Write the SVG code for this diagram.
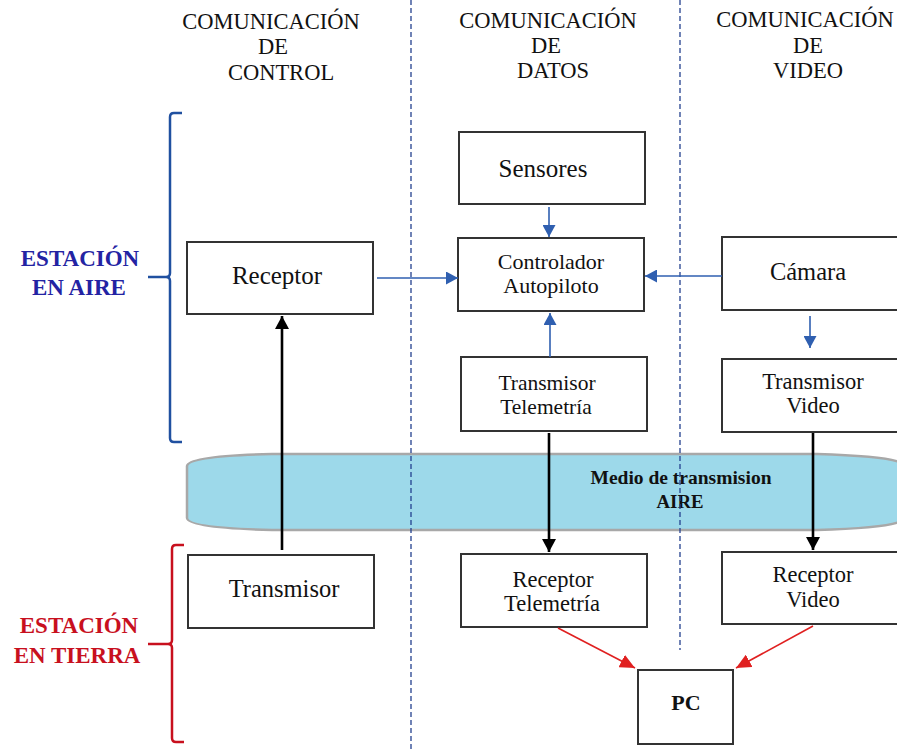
<svg xmlns="http://www.w3.org/2000/svg" width="897" height="751" viewBox="0 0 897 751">
<style>
.t{font-family:'Liberation Serif','Times New Roman',Times,'DejaVu Serif',serif;fill:#111;text-anchor:middle}
.h{font-size:22.5px}
.box rect{fill:#fff;stroke:#333;stroke-width:2}
.blue{stroke:#2f5fb0;stroke-width:1.6;fill:none}
.blk{stroke:#000;stroke-width:2.6;fill:none}
.red{stroke:#e02020;stroke-width:1.6;fill:none}
.dash{stroke:#24418f;stroke-width:1.3;stroke-dasharray:5 3;fill:none}
</style>
<defs>
<marker id="ab" markerUnits="userSpaceOnUse" markerWidth="13" markerHeight="13" refX="12" refY="6.5" orient="auto"><path d="M0,0 L12,6.5 L0,13 z" fill="#2f5fb0"/></marker>
<marker id="ak" markerUnits="userSpaceOnUse" markerWidth="14" markerHeight="14" refX="13" refY="7" orient="auto"><path d="M0,0 L13,7 L0,14 z" fill="#000"/></marker>
<marker id="ar" markerUnits="userSpaceOnUse" markerWidth="16" markerHeight="14" refX="15" refY="7" orient="auto"><path d="M0,0 L15,7 L0,14 z" fill="#e02020"/></marker>
</defs>
<rect width="897" height="751" fill="#fff"/>

<g id="headers">
<text class="t h" x="271" y="29">COMUNICACIÓN</text>
<text class="t h" x="273" y="54">DE</text>
<text class="t h" x="281" y="80">CONTROL</text>
<text class="t h" x="548" y="28">COMUNICACIÓN</text>
<text class="t h" x="546" y="53">DE</text>
<text class="t h" x="553" y="78">DATOS</text>
<text class="t h" x="805" y="27">COMUNICACIÓN</text>
<text class="t h" x="808" y="53">DE</text>
<text class="t h" x="808" y="78">VIDEO</text>
</g>

<g id="medio">
<path d="M187 466 Q188 456 272 454 L817 454 Q884 456 899 462 L899 522 Q884 528 817 530 L272 530 Q188 528 187 518 Z" fill="#9dd9ea" stroke="#a8a8a8" stroke-width="2.5"/>
<text class="t" x="681" y="484" font-size="18" font-weight="bold" textLength="181" lengthAdjust="spacingAndGlyphs">Medio de transmision</text>
<text class="t" x="680" y="508" font-size="18" font-weight="bold" textLength="47" lengthAdjust="spacingAndGlyphs">AIRE</text>
</g>

<g id="dividers">
<line class="dash" x1="411" y1="0" x2="411" y2="751"/>
<line class="dash" x1="680" y1="0" x2="680" y2="650"/>
</g>

<g id="estacion-aire">
<path d="M182 113 L174 113 Q170 113 170 117 L170 273 Q170 277 166 277 L148 277 M166 277 Q170 277 170 281 L170 438 Q170 442 174 442 L182 442" fill="none" stroke="#2050a0" stroke-width="2.5"/>
<text class="t" x="80" y="266" font-size="23" font-weight="bold" style="fill:#2323a3">ESTACIÓN</text>
<text class="t" x="79" y="295" font-size="23" font-weight="bold" style="fill:#2323a3">EN AIRE</text>
</g>

<g id="estacion-tierra">
<path d="M184 545 L176 545 Q172 545 172 549 L172 640 Q172 644 168 644 L148 644 M168 644 Q172 644 172 648 L172 738 Q172 742 176 742 L184 742" fill="none" stroke="#c8101e" stroke-width="2.5"/>
<text class="t" x="79" y="633" font-size="23" font-weight="bold" style="fill:#c8101e">ESTACIÓN</text>
<text class="t" x="77" y="663" font-size="23" font-weight="bold" style="fill:#c8101e">EN TIERRA</text>
</g>

<g id="receptor" class="box"><rect x="187" y="242" width="186" height="72"/><text class="t" x="277" y="284" font-size="25">Receptor</text></g>
<g id="sensores" class="box"><rect x="459" y="132" width="186" height="72"/><text class="t" x="543" y="177" font-size="25">Sensores</text></g>
<g id="controlador" class="box"><rect x="458" y="238" width="186" height="73"/><text class="t" x="551" y="269" font-size="22">Controlador</text><text class="t" x="551" y="293" font-size="22">Autopiloto</text></g>
<g id="transmisor-telemetria" class="box"><rect x="461" y="357" width="186" height="74"/><text class="t" x="547" y="390" font-size="21.5">Transmisor</text><text class="t" x="546" y="414" font-size="21.5">Telemetría</text></g>
<g id="camara" class="box"><rect x="722" y="237" width="176" height="73"/><text class="t" x="808" y="280" font-size="24.5">Cámara</text></g>
<g id="transmisor-video" class="box"><rect x="722" y="359" width="176" height="73"/><text class="t" x="813" y="389" font-size="22.5">Transmisor</text><text class="t" x="813" y="413" font-size="22.5">Video</text></g>
<g id="transmisor" class="box"><rect x="188" y="555" width="186" height="73"/><text class="t" x="284" y="597" font-size="24.5">Transmisor</text></g>
<g id="receptor-telemetria" class="box"><rect x="461" y="554" width="186" height="73"/><text class="t" x="553" y="587" font-size="22.5">Receptor</text><text class="t" x="552" y="611" font-size="22.5">Telemetría</text></g>
<g id="receptor-video" class="box"><rect x="722" y="552" width="176" height="72"/><text class="t" x="813" y="582" font-size="22.5">Receptor</text><text class="t" x="813" y="607" font-size="22.5">Video</text></g>
<g id="pc" class="box"><rect x="638" y="670" width="95" height="74"/><text class="t" x="686" y="710" font-size="22" font-weight="bold">PC</text></g>

<g id="connectors">
<line class="blue" x1="549" y1="207" x2="549" y2="237" marker-end="url(#ab)"/>
<line class="blue" x1="550" y1="357" x2="550" y2="313" marker-end="url(#ab)"/>
<line class="blue" x1="722" y1="276" x2="645" y2="276" marker-end="url(#ab)"/>
<line class="blue" x1="377" y1="278" x2="458" y2="278" marker-end="url(#ab)"/>
<line class="blue" x1="810" y1="316" x2="810" y2="348" marker-end="url(#ab)"/>
<line class="blk" x1="282" y1="550" x2="282" y2="316" marker-end="url(#ak)"/>
<line class="blk" x1="549" y1="433" x2="549" y2="552" marker-end="url(#ak)"/>
<line class="blk" x1="813" y1="433" x2="813" y2="550" marker-end="url(#ak)"/>
<line class="red" x1="558" y1="628" x2="635" y2="668" marker-end="url(#ar)"/>
<line class="red" x1="813" y1="626" x2="736" y2="668" marker-end="url(#ar)"/>
</g>
</svg>
